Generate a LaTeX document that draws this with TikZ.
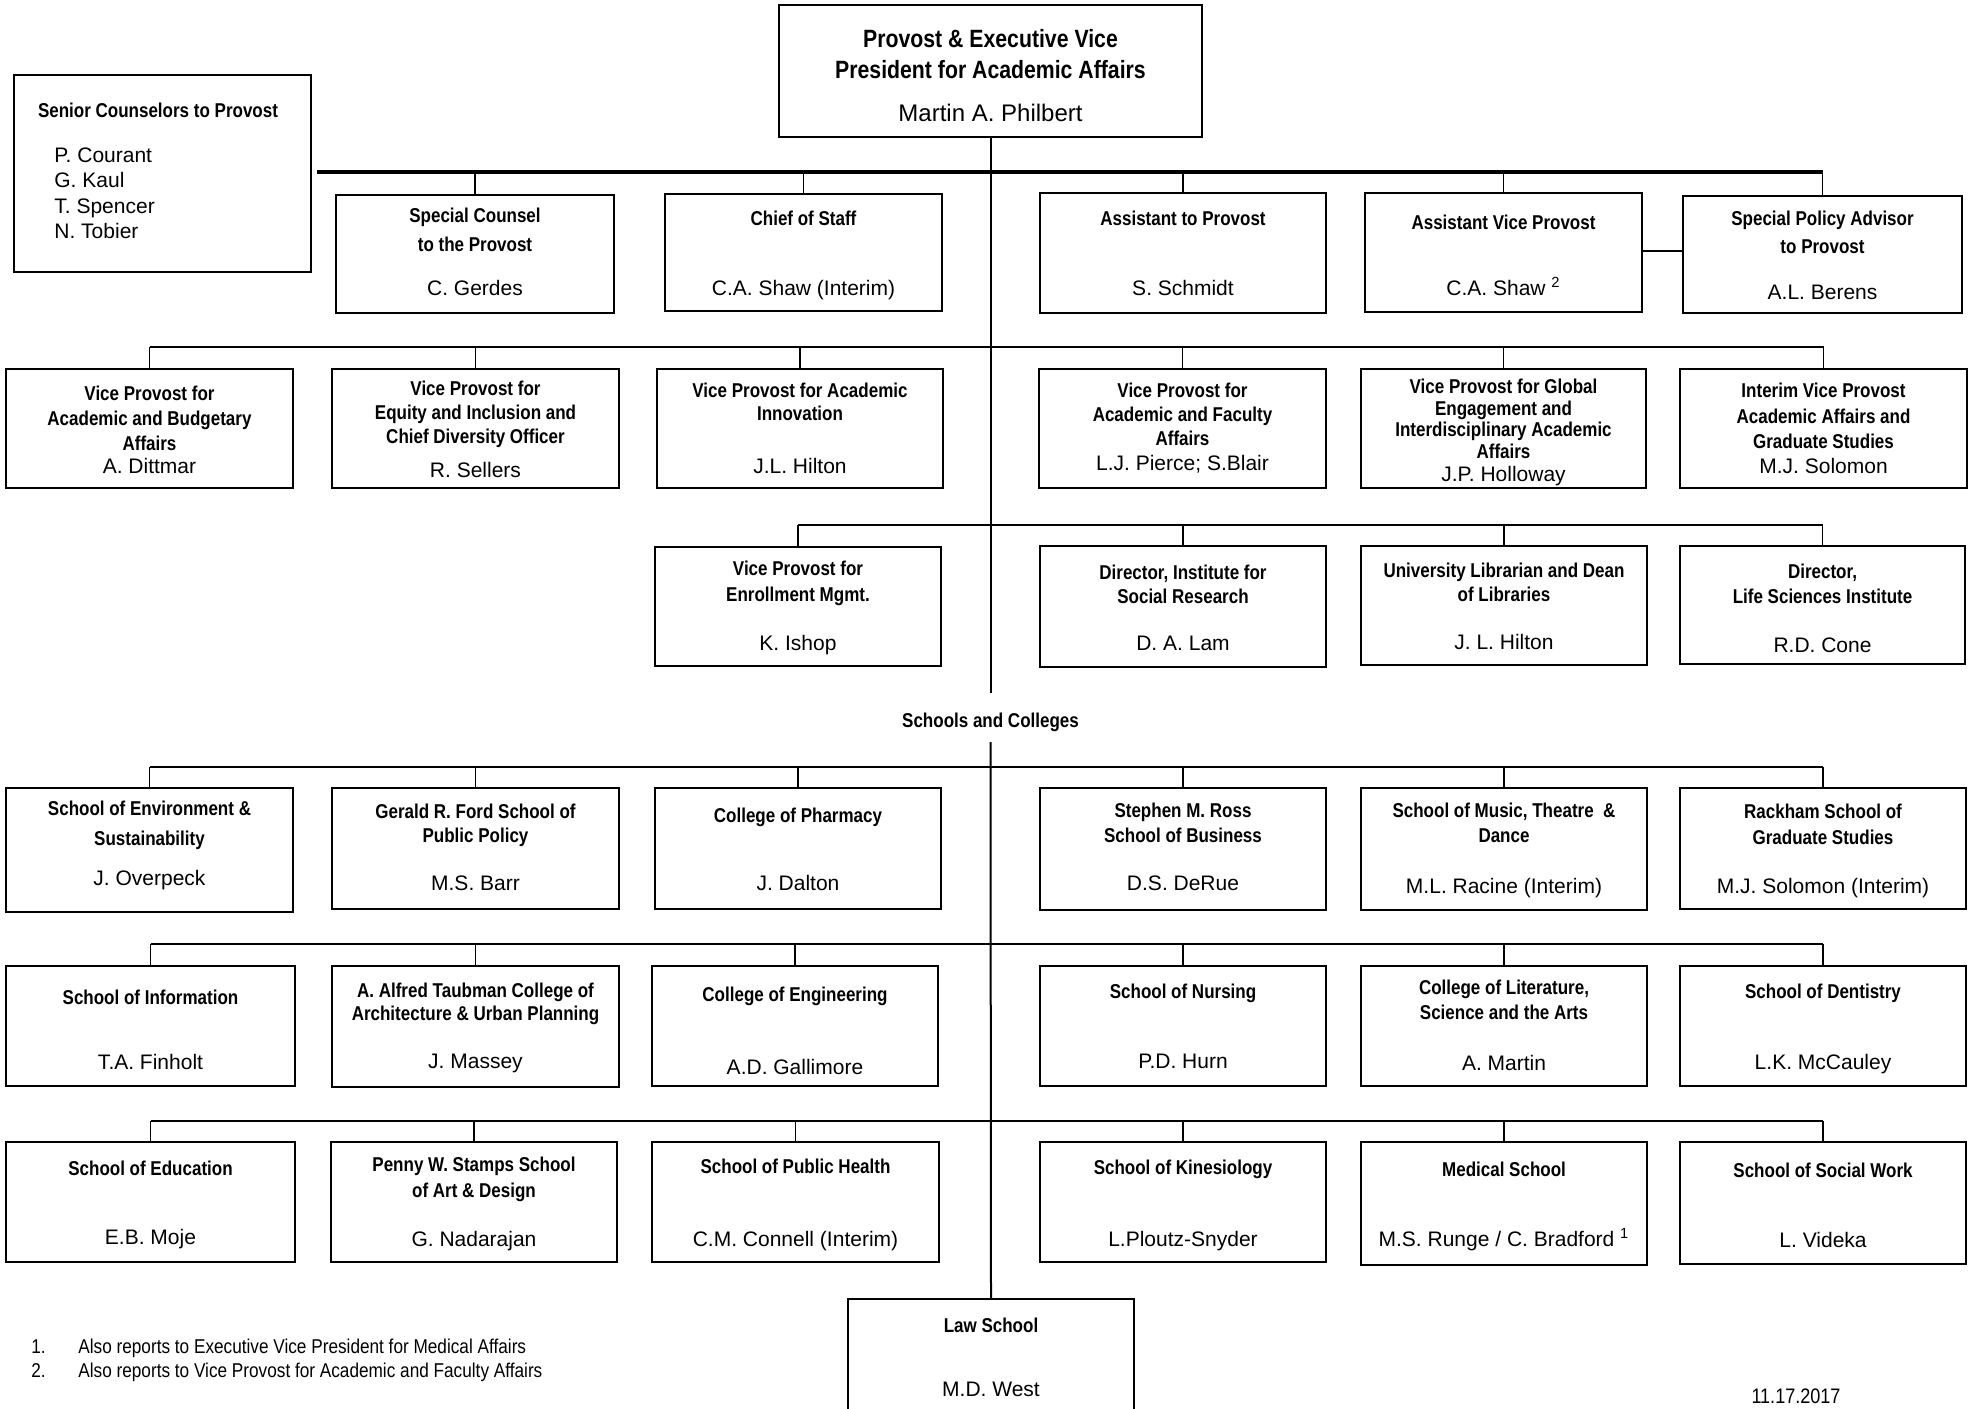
\documentclass[tikz,border=0pt]{standalone}
\usepackage{fontspec}
\setmainfont{Liberation Sans}
\newfontface\tbf[FakeStretch=0.85]{Liberation Sans Bold}
\newfontface\tnr[FakeStretch=0.86]{Liberation Sans}
\newcommand\ubx[5]{\node[ubox, minimum width={(#4-#2)*0.5pt}, minimum height={(#5-#3)*0.5pt}] (#1) at ({(#2+#4)/2},{(#3+#5)/2}) {};}
\newcommand\tline[3]{\node[ttl] at (#1.center |- 0,#2) {#3};}
\newcommand\nline[3]{\node[nmt] at (#1.center |- 0,#2) {#3};}
\newcommand\drop[2]{\draw[conn] (#1.north) -- (#1.north |- 0,#2);}
\tikzset{
 ubox/.style={draw, line width=1.1pt, inner sep=0pt},
 ttl/.style={font=\tbf\fontsize{10}{12}\selectfont, inner sep=0pt, text height=7.2pt, text depth=0pt},
 nmt/.style={font=\fontsize{10.5}{12}\selectfont, inner sep=0pt, text height=7.5pt, text depth=0pt},
 conn/.style={line width=0.8pt},
 bigline/.style={line width=2.2pt},
 trunk/.style={line width=1pt},
}
\begin{document}
\begin{tikzpicture}[x=0.5pt,y=-0.5pt]
\useasboundingbox (0,0) rectangle (1975,1408);
\fill[white] (0,0) rectangle (1975,1408);
% boxes
\ubx{prov}{779}{5}{1202}{137}
\ubx{senior}{14}{75}{311}{272}
\ubx{spc}{336}{195}{614}{313}
\ubx{cos}{665}{194}{942}{311}
\ubx{atp}{1040}{193}{1326}{313}
\ubx{avp}{1365}{193}{1642}{312}
\ubx{spa}{1683}{196}{1962}{313}
\ubx{vpab}{6}{369}{293}{488}
\ubx{vpeq}{332}{369}{619}{488}
\ubx{vpai}{657}{369}{943}{488}
\ubx{vpaf}{1039}{369}{1326}{488}
\ubx{vpge}{1361}{369}{1646}{488}
\ubx{ivp}{1680}{369}{1967}{488}
\ubx{vpem}{655}{547}{941}{666}
\ubx{isr}{1040}{546}{1326}{667}
\ubx{lib}{1361}{546}{1647}{665}
\ubx{lsi}{1680}{546}{1965}{664}
\ubx{env}{6}{788}{293}{912}
\ubx{ford}{332}{788}{619}{909}
\ubx{phar}{655}{788}{941}{909}
\ubx{ross}{1040}{788}{1326}{910}
\ubx{music}{1361}{788}{1647}{910}
\ubx{rack}{1680}{788}{1966}{909}
\ubx{info}{6}{966}{295}{1086}
\ubx{taub}{332}{966}{619}{1087}
\ubx{eng}{652}{966}{938}{1086}
\ubx{nurs}{1040}{966}{1326}{1086}
\ubx{lsa}{1361}{966}{1647}{1086}
\ubx{dent}{1680}{966}{1966}{1086}
\ubx{edu}{6}{1142}{295}{1262}
\ubx{stamps}{331}{1142}{617}{1262}
\ubx{ph}{652}{1142}{939}{1262}
\ubx{kin}{1040}{1142}{1326}{1262}
\ubx{med}{1361}{1142}{1647}{1265}
\ubx{sw}{1680}{1142}{1966}{1264}
\ubx{law}{848}{1299}{1134}{1440}
% connectors
\coordinate (bl) at ([xshift=2.5pt]senior.east |- 0,172);
\draw[bigline] (bl) -- (spa.north |- 0,172);
\foreach \b in {spc,cos,atp,avp,spa} {\drop{\b}{172}}
\draw[conn] (avp.east |- 0,251) -- (spa.west |- 0,251);
\coordinate (t1) at (prov.south |- 0,693);
\draw[trunk] (prov.south) -- (t1);
\node[ttl] (sc) at (prov.south |- 0,720) {Schools and Colleges};
\coordinate (t2) at (prov.south |- 0,742);
\draw[trunk] (t2) -- (law.north);
\draw[conn] (vpab.north |- 0,347) -- (ivp.north |- 0,347);
\foreach \b in {vpab,vpeq,vpai,vpaf,vpge,ivp} {\drop{\b}{347}}
\draw[conn] (vpem.north |- 0,525) -- (lsi.north |- 0,525);
\foreach \b in {vpem,isr,lib,lsi} {\drop{\b}{525}}
\draw[conn] (env.north |- 0,767) -- (rack.north |- 0,767);
\foreach \b in {env,ford,phar,ross,music,rack} {\drop{\b}{767}}
\draw[conn] (info.north |- 0,944) -- (dent.north |- 0,944);
\foreach \b in {info,taub,eng,nurs,lsa,dent} {\drop{\b}{944}}
\draw[conn] (edu.north |- 0,1121) -- (sw.north |- 0,1121);
\foreach \b in {edu,stamps,ph,kin,med,sw} {\drop{\b}{1121}}
% texts
\node[ttl, font=\tbf\fontsize{12.5}{14}\selectfont, text height=9pt] at (prov.center |- 0,38) {Provost \& Executive Vice};
\node[ttl, font=\tbf\fontsize{12.5}{14}\selectfont, text height=9pt] at (prov.center |- 0,69) {President for Academic Affairs};
\node[nmt, font=\fontsize{12}{14}\selectfont, text height=8.6pt] at (prov.center |- 0,113) {Martin A. Philbert};
\node[ttl] at (158,110) {Senior Counselors to Provost};
\node[nmt, anchor=west] at (54,155) {P. Courant};
\node[nmt, anchor=west] at (54,180) {G. Kaul};
\node[nmt, anchor=west] at (54,205.5) {T. Spencer};
\node[nmt, anchor=west] at (54,230.5) {N. Tobier};
\tline{spc}{215}{Special Counsel}
\tline{spc}{244}{to the Provost}
\nline{spc}{288}{C. Gerdes}
\tline{cos}{218}{Chief of Staff}
\nline{cos}{288}{C.A. Shaw (Interim)}
\tline{atp}{218}{Assistant to Provost}
\nline{atp}{288}{S. Schmidt}
\tline{avp}{222}{Assistant Vice Provost}
\nline{avp}{288}{C.A. Shaw \textsuperscript{2}}
\tline{spa}{218}{Special Policy Advisor}
\tline{spa}{246}{to Provost}
\nline{spa}{292}{A.L. Berens}
% row 2
\tline{vpab}{393}{Vice Provost for}
\tline{vpab}{418}{Academic and Budgetary}
\tline{vpab}{443}{Affairs}
\nline{vpab}{466}{A. Dittmar}
\tline{vpeq}{388}{Vice Provost for}
\tline{vpeq}{412}{Equity and Inclusion and}
\tline{vpeq}{436}{Chief Diversity Officer}
\nline{vpeq}{470}{R. Sellers}
\tline{vpai}{390}{Vice Provost for Academic}
\tline{vpai}{413}{Innovation}
\nline{vpai}{466}{J.L. Hilton}
\tline{vpaf}{390}{Vice Provost for}
\tline{vpaf}{414}{Academic and Faculty}
\tline{vpaf}{438}{Affairs}
\nline{vpaf}{463}{L.J. Pierce; S.Blair}
\tline{vpge}{386.5}{Vice Provost for Global}
\tline{vpge}{408}{Engagement and}
\tline{vpge}{429.5}{Interdisciplinary Academic}
\tline{vpge}{451}{Affairs}
\nline{vpge}{474}{J.P. Holloway}
\tline{ivp}{390}{Interim Vice Provost}
\tline{ivp}{416}{Academic Affairs and}
\tline{ivp}{441}{Graduate Studies}
\nline{ivp}{466}{M.J. Solomon}
% row 3
\tline{vpem}{568}{Vice Provost for}
\tline{vpem}{594}{Enrollment Mgmt.}
\nline{vpem}{643}{K. Ishop}
\tline{isr}{572}{Director, Institute for}
\tline{isr}{596}{Social Research}
\nline{isr}{643}{D. A. Lam}
\tline{lib}{570}{University Librarian and Dean}
\tline{lib}{594}{of Libraries}
\nline{lib}{641.5}{J. L. Hilton}
\tline{lsi}{571}{Director,}
\tline{lsi}{596}{Life Sciences Institute}
\nline{lsi}{645}{R.D. Cone}
% row 4
\tline{env}{808}{School of Environment \&}
\tline{env}{838}{Sustainability}
\nline{env}{878}{J. Overpeck}
\tline{ford}{811.5}{Gerald R. Ford School of}
\tline{ford}{835}{Public Policy}
\nline{ford}{882.5}{M.S. Barr}
\tline{phar}{815}{College of Pharmacy}
\nline{phar}{883}{J. Dalton}
\tline{ross}{810.5}{Stephen M. Ross}
\tline{ross}{835.5}{School of Business}
\nline{ross}{883}{D.S. DeRue}
\tline{music}{810}{School of Music, Theatre \ \&}
\tline{music}{835.5}{Dance}
\nline{music}{886}{M.L. Racine (Interim)}
\tline{rack}{811.5}{Rackham School of}
\tline{rack}{837.5}{Graduate Studies}
\nline{rack}{886}{M.J. Solomon (Interim)}
% row 5
\tline{info}{997}{School of Information}
\nline{info}{1062}{T.A. Finholt}
\tline{taub}{990}{A. Alfred Taubman College of}
\tline{taub}{1013}{Architecture \& Urban Planning}
\nline{taub}{1060.5}{J. Massey}
\tline{eng}{994}{College of Engineering}
\nline{eng}{1066.5}{A.D. Gallimore}
\tline{nurs}{991}{School of Nursing}
\nline{nurs}{1061}{P.D. Hurn}
\tline{lsa}{987}{College of Literature,}
\tline{lsa}{1012.5}{Science and the Arts}
\nline{lsa}{1062.5}{A. Martin}
\tline{dent}{991.5}{School of Dentistry}
\nline{dent}{1061.5}{L.K. McCauley}
% row 6
\tline{edu}{1168}{School of Education}
\nline{edu}{1236.5}{E.B. Moje}
\tline{stamps}{1164}{Penny W. Stamps School}
\tline{stamps}{1190}{of Art \& Design}
\nline{stamps}{1239}{G. Nadarajan}
\tline{ph}{1166.5}{School of Public Health}
\nline{ph}{1239}{C.M. Connell (Interim)}
\tline{kin}{1167.5}{School of Kinesiology}
\nline{kin}{1239}{L.Ploutz-Snyder}
\tline{med}{1169}{Medical School}
\nline{med}{1239}{M.S. Runge / C. Bradford \textsuperscript{1}}
\tline{sw}{1170.5}{School of Social Work}
\nline{sw}{1240}{L. Videka}
\tline{law}{1325}{Law School}
\nline{law}{1389}{M.D. West}
% footnotes
\node[nmt, font=\tnr\fontsize{10}{12}\selectfont, anchor=west] at (31,1346) {1.};
\node[nmt, font=\tnr\fontsize{10}{12}\selectfont, anchor=west] at (78,1346) {Also reports to Executive Vice President for Medical Affairs};
\node[nmt, font=\tnr\fontsize{10}{12}\selectfont, anchor=west] at (31,1370) {2.};
\node[nmt, font=\tnr\fontsize{10}{12}\selectfont, anchor=west] at (78,1370) {Also reports to Vice Provost for Academic and Faculty Affairs};
\node[nmt, font=\tnr\fontsize{10.5}{12}\selectfont] at (1796,1396) {11.17.2017};
\end{tikzpicture}
\end{document}
